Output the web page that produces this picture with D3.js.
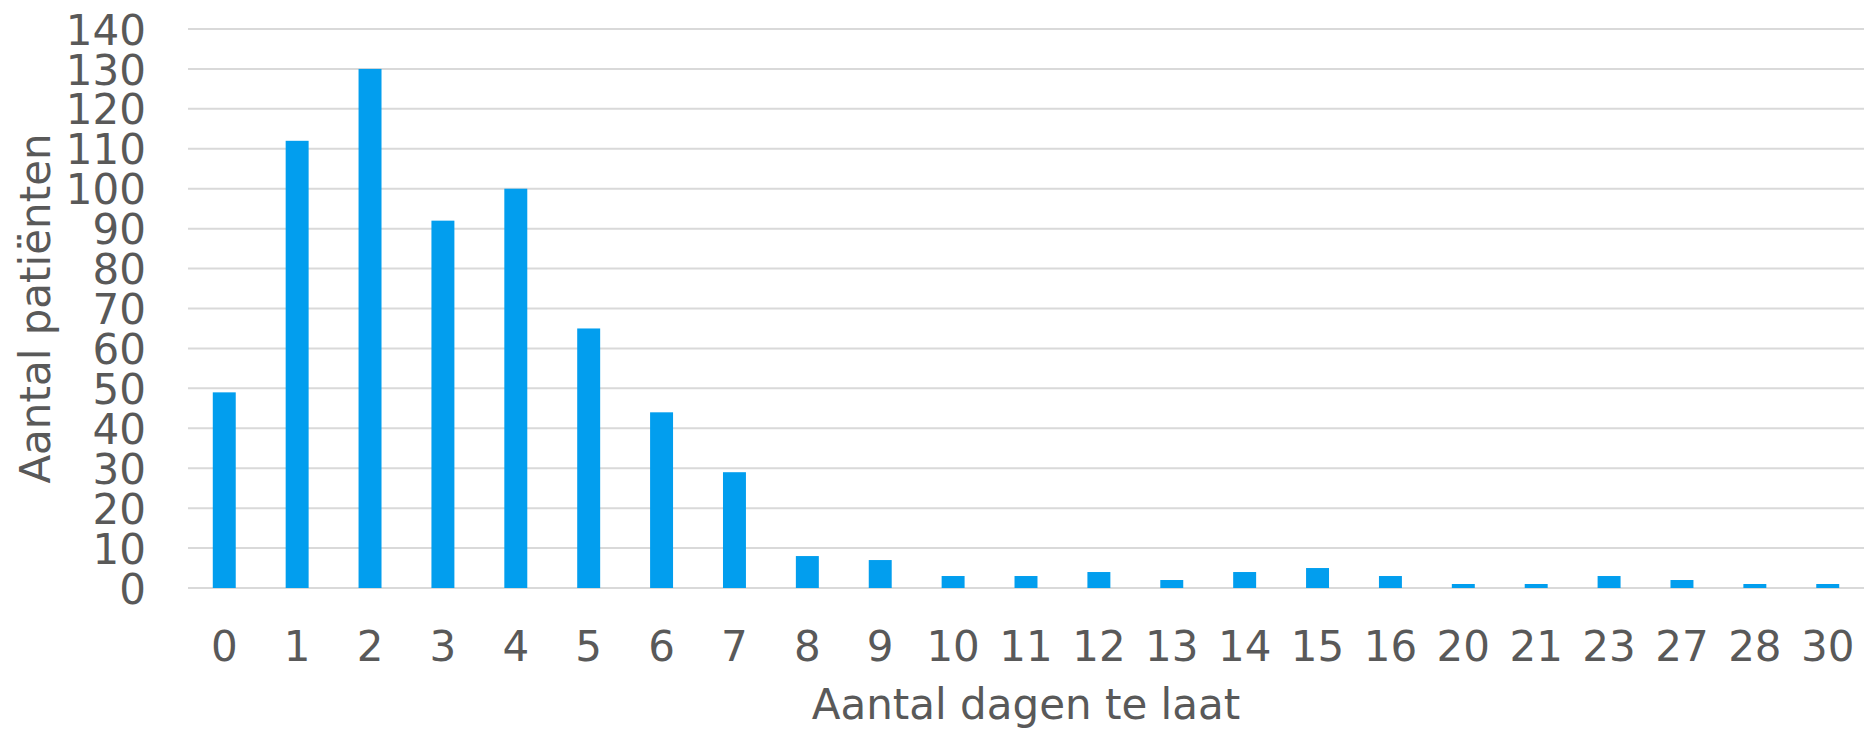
<!DOCTYPE html>
<html>
<head>
<meta charset="utf-8">
<script src="https://cdn.jsdelivr.net/npm/d3@7"></script>
<style>
  body { margin: 0; background: #fff; }
  svg text { font-family: "DejaVu Sans", Verdana, sans-serif; fill: #595959; }
</style>
</head>
<body>
<svg width="1868" height="729"></svg>
<script>
let svg = d3.select("svg"),
    width = +svg.attr("width"),
    height = +svg.attr("height");

// Days late (categories) and number of patients
let days = ["0", "1", "2", "3", "4", "5", "6", "7", "8", "9", "10", "11",
            "12", "13", "14", "15", "16", "20", "21", "23", "27", "28", "30"];
let patients = [49, 112, 130, 92, 100, 65, 44, 29, 8, 7, 3, 3,
                4, 2, 4, 5, 3, 1, 1, 3, 2, 1, 1];
let yTicks = [0, 10, 20, 30, 40, 50, 60, 70, 80, 90, 100, 110, 120, 130, 140];

let barColor = "#029eee";
let gridColor = "#d9d9d9";
let fontSize = 42;

let margin = {top: 29, right: 4, bottom: 141, left: 188};
let plotW = width - margin.left - margin.right,
    plotH = height - margin.top - margin.bottom;

let data = days.map((d, i) => ({day: d, value: patients[i]}));

let x = d3.scaleBand()
    .domain(days)
    .range([0, plotW])
    .paddingInner(0.685)
    .paddingOuter(0.34);

let y = d3.scaleLinear()
    .domain([0, 140])
    .range([plotH, 0]);

let g = svg.append("g")
    .attr("transform", `translate(${margin.left},${margin.top})`);

//Horizontal gridlines
g.append("g")
    .attr("class", "grid")
    .selectAll("line")
    .data(yTicks).enter().append("line")
        .attr("x1", 0)
        .attr("x2", plotW)
        .attr("y1", d => y(d))
        .attr("y2", d => y(d))
        .attr("stroke", gridColor)
        .attr("stroke-width", 2);

//Bars
g.append("g")
    .attr("class", "bars")
    .selectAll("rect")
    .data(data).enter().append("rect")
        .attr("x", d => x(d.day))
        .attr("width", x.bandwidth())
        .attr("y", d => y(d.value))
        .attr("height", d => y(0) - y(d.value))
        .attr("fill", barColor);

//Y axis (labels only)
let yAxis = g.append("g")
    .attr("transform", "translate(-42,0)")
    .call(d3.axisLeft(y).tickValues(yTicks).tickSize(0).tickPadding(0));
yAxis.select(".domain").remove();
yAxis.selectAll("text")
    .style("font-size", fontSize + "px")
    .attr("dy", "0.36em");

//X axis (labels only)
let xAxis = g.append("g")
    .attr("transform", `translate(0,${plotH})`)
    .call(d3.axisBottom(x).tickSize(0).tickPadding(0));
xAxis.select(".domain").remove();
xAxis.selectAll("text")
    .style("font-size", fontSize + "px")
    .attr("y", 73)
    .attr("dy", 0);

//Axis titles
svg.append("text")
    .attr("x", margin.left + plotW / 2)
    .attr("y", 719)
    .attr("text-anchor", "middle")
    .style("font-size", fontSize + "px")
    .text("Aantal dagen te laat");

svg.append("text")
    .attr("transform", `translate(50,${margin.top + plotH / 2}) rotate(-90)`)
    .attr("text-anchor", "middle")
    .style("font-size", fontSize + "px")
    .text("Aantal patiënten");
</script>
</body>
</html>
